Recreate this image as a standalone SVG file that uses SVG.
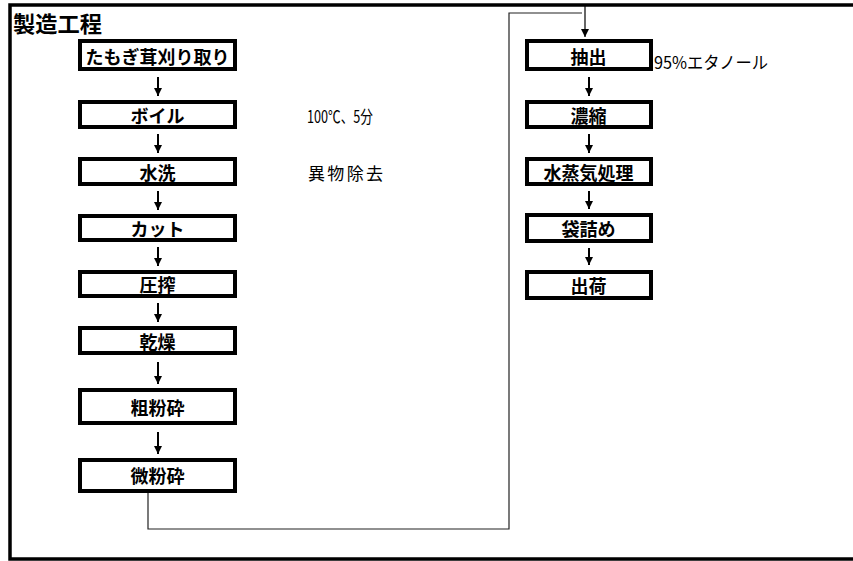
<svg xmlns="http://www.w3.org/2000/svg" width="853" height="561" viewBox="0 0 853 561">
<defs>
<style>
.frame{fill:none;stroke:#000;stroke-width:3.5}
.box{fill:#fff;stroke:#000;stroke-width:4}
.lbl{font-family:"Noto Sans CJK JP","Noto Sans CJK SC",sans-serif;font-size:18px;font-weight:bold;fill:#000;text-anchor:middle;dominant-baseline:central}
.note{font-family:"Noto Sans CJK JP","Noto Sans CJK SC",sans-serif;font-size:17px;fill:#000;dominant-baseline:central}
.title{font-family:"Noto Sans CJK JP","Noto Sans CJK SC",sans-serif;font-size:22px;font-weight:bold;fill:#000;dominant-baseline:central}
.arr{fill:none;stroke:#000;stroke-width:2;marker-end:url(#ah)}
.arrt{fill:none;stroke:#000;stroke-width:1.2;marker-end:url(#ah)}
.link{fill:none;stroke:#222;stroke-width:1.2}
</style>
<marker id="ah" markerUnits="userSpaceOnUse" markerWidth="8" markerHeight="8" refX="8" refY="4" orient="auto">
<path d="M0,0 L8,4 L0,8 z" fill="#000"/>
</marker>
</defs>
<rect width="853" height="561" fill="#fff"/>
<rect class="frame" x="10" y="5" width="860" height="554"/>
<text class="title" x="13" y="22" textLength="89" lengthAdjust="spacingAndGlyphs">製造工程</text>

<g id="connectors">
<path class="arr" d="M158,77 V96"/>
<path class="arr" d="M158,134 V153"/>
<path class="arr" d="M158,191 V210"/>
<path class="arr" d="M158,247 V266"/>
<path class="arr" d="M158,303 V322"/>
<path class="arr" d="M158,362 V384"/>
<path class="arr" d="M158,432 V454"/>
<polyline class="link" points="148,493 148,529 509,529 509,13 582,13"/>
<path class="arrt" d="M585,6 V37"/>
<path class="arr" d="M589,77 V96"/>
<path class="arr" d="M589,134 V153"/>
<path class="arr" d="M589,191 V209"/>
<path class="arr" d="M589,248 V265"/>
</g>

<g id="n1"><rect class="box" x="80" y="41" width="155" height="28"/><text class="lbl" x="157.5" y="56">たもぎ茸刈り取り</text></g>
<g id="n2"><rect class="box" x="80" y="102" width="155" height="25"/><text class="lbl" x="157.5" y="115">ボイル</text></g>
<g id="n3"><rect class="box" x="80" y="159" width="155" height="25"/><text class="lbl" x="157.5" y="172">水洗</text></g>
<g id="n4"><rect class="box" x="80" y="216" width="155" height="24"/><text class="lbl" x="157.5" y="228">カット</text></g>
<g id="n5"><rect class="box" x="80" y="272" width="155" height="24"/><text class="lbl" x="157.5" y="284">圧搾</text></g>
<g id="n6"><rect class="box" x="80" y="328" width="155" height="25"/><text class="lbl" x="157.5" y="341">乾燥</text></g>
<g id="n7"><rect class="box" x="80" y="390" width="155" height="33"/><text class="lbl" x="157.5" y="407">粗粉砕</text></g>
<g id="n8"><rect class="box" x="80" y="460" width="155" height="31"/><text class="lbl" x="157.5" y="475">微粉砕</text></g>

<g id="r1"><rect class="box" x="527" y="41" width="124" height="28"/><text class="lbl" x="588.5" y="56">抽出</text></g>
<g id="r2"><rect class="box" x="527" y="102" width="124" height="25"/><text class="lbl" x="588.5" y="115">濃縮</text></g>
<g id="r3"><rect class="box" x="527" y="159" width="124" height="25"/><text class="lbl" x="588.5" y="172">水蒸気処理</text></g>
<g id="r4"><rect class="box" x="527" y="215" width="124" height="26"/><text class="lbl" x="588.5" y="228">袋詰め</text></g>
<g id="r5"><rect class="box" x="527" y="272" width="124" height="26"/><text class="lbl" x="588.5" y="285">出荷</text></g>

<g id="notes">
<text class="note" x="307" y="115" textLength="66" lengthAdjust="spacingAndGlyphs">100℃、5分</text>
<text class="note" x="308" y="172" textLength="75">異物除去</text>
<text class="note" x="654" y="61" textLength="114" lengthAdjust="spacingAndGlyphs">95%エタノール</text>
</g>
</svg>
